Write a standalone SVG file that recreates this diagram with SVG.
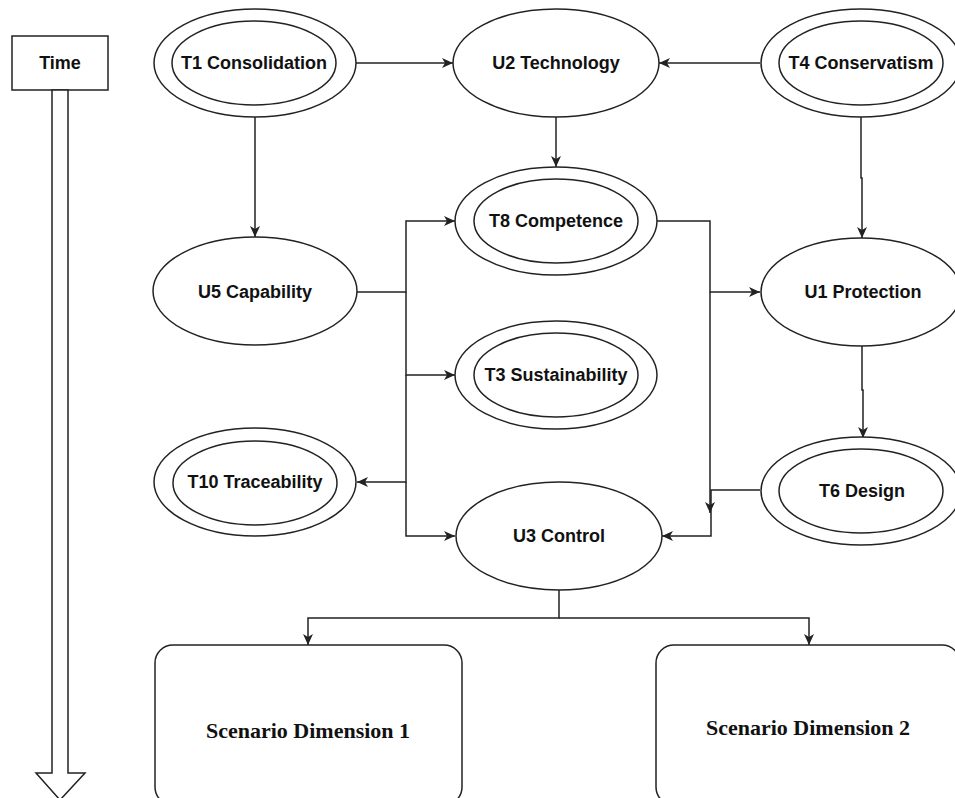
<svg xmlns="http://www.w3.org/2000/svg" width="955" height="798" viewBox="0 0 955 798">
  <style>
    .shape { fill: #ffffff; stroke: #222222; stroke-width: 1.5; }
    .edge { fill: none; stroke: #222222; stroke-width: 1.5; }
    .lbl { font-family: "Liberation Sans", Arial, sans-serif; font-weight: bold; font-size: 18px; fill: #111111; text-anchor: middle; dominant-baseline: central; }
    .serif { font-family: "Liberation Serif", "Times New Roman", serif; font-weight: bold; font-size: 22px; fill: #111111; text-anchor: middle; dominant-baseline: central; }
  </style>
  <defs>
    <marker id="arrow" markerUnits="userSpaceOnUse" markerWidth="12" markerHeight="10" refX="11" refY="5" orient="auto">
      <path d="M0,0 L11,5 L0,10 L3,5 Z" fill="#222222"/>
    </marker>
  </defs>

  <rect width="955" height="798" fill="#ffffff"/>

  <!-- time axis -->
  <g id="time">
    <rect class="shape" x="12" y="36" width="96" height="54"/>
    <text class="lbl" x="60" y="63">Time</text>
    <polygon class="shape" points="52,90 68,90 68,773 85,773 60,800 36,773 52,773"/>
  </g>

  <!-- connectors -->
  <g id="connectors">
    <path class="edge" d="M356,63 H453" marker-end="url(#arrow)"/>
    <path class="edge" d="M760,63 H659" marker-end="url(#arrow)"/>
    <path class="edge" d="M556,117 V167" marker-end="url(#arrow)"/>
    <path class="edge" d="M255,117 V237" marker-end="url(#arrow)"/>
    <path class="edge" d="M861,117 V178 H862 V238" marker-end="url(#arrow)"/>
    <path class="edge" d="M357,292 H406 V221 H455" marker-end="url(#arrow)"/>
    <path class="edge" d="M406,292 V375 H455" marker-end="url(#arrow)"/>
    <path class="edge" d="M406,375 V482 H357" marker-end="url(#arrow)"/>
    <path class="edge" d="M406,482 V536 H455" marker-end="url(#arrow)"/>
    <path class="edge" d="M657,221 H710 V292 H760" marker-end="url(#arrow)"/>
    <path class="edge" d="M710,292 V513" marker-end="url(#arrow)"/>
    <path class="edge" d="M862,345 V390 H863 V438" marker-end="url(#arrow)"/>
    <path class="edge" d="M760,490 H711 V536 H662" marker-end="url(#arrow)"/>
    <path class="edge" d="M559,590 V618 H308 V645" marker-end="url(#arrow)"/>
    <path class="edge" d="M559,618 H809 V645" marker-end="url(#arrow)"/>
  </g>

  <g id="t1">
    <ellipse class="shape" cx="255" cy="63" rx="101" ry="54"/>
    <ellipse class="shape" cx="254" cy="63" rx="82" ry="42"/>
    <text class="lbl" x="254" y="63">T1 Consolidation</text>
  </g>
  <g id="u2">
    <ellipse class="shape" cx="556" cy="63" rx="103" ry="54"/>
    <text class="lbl" x="556" y="63">U2 Technology</text>
  </g>
  <g id="t4">
    <ellipse class="shape" cx="861" cy="63" rx="100" ry="54"/>
    <ellipse class="shape" cx="861" cy="63" rx="82" ry="42"/>
    <text class="lbl" x="861" y="63">T4 Conservatism</text>
  </g>
  <g id="t8">
    <ellipse class="shape" cx="556" cy="221" rx="101" ry="54"/>
    <ellipse class="shape" cx="556" cy="221" rx="82" ry="42"/>
    <text class="lbl" x="556" y="221">T8 Competence</text>
  </g>
  <g id="u5">
    <ellipse class="shape" cx="255" cy="291" rx="102" ry="54"/>
    <text class="lbl" x="255" y="292">U5 Capability</text>
  </g>
  <g id="u1">
    <ellipse class="shape" cx="861" cy="292" rx="100" ry="54"/>
    <text class="lbl" x="863" y="292">U1 Protection</text>
  </g>
  <g id="t3">
    <ellipse class="shape" cx="556" cy="375" rx="101" ry="54"/>
    <ellipse class="shape" cx="556" cy="375" rx="82" ry="42"/>
    <text class="lbl" x="556" y="375">T3 Sustainability</text>
  </g>
  <g id="t10">
    <ellipse class="shape" cx="255" cy="482" rx="101" ry="54"/>
    <ellipse class="shape" cx="255" cy="483" rx="82" ry="42"/>
    <text class="lbl" x="255" y="482">T10 Traceability</text>
  </g>
  <g id="t6">
    <ellipse class="shape" cx="861" cy="491" rx="100" ry="54"/>
    <ellipse class="shape" cx="861" cy="491" rx="82" ry="42"/>
    <text class="lbl" x="862" y="491">T6 Design</text>
  </g>
  <g id="u3">
    <ellipse class="shape" cx="559" cy="536" rx="103" ry="54"/>
    <text class="lbl" x="559" y="536">U3 Control</text>
  </g>

  <g id="scenario1">
    <rect class="shape" x="155" y="645" width="307" height="160" rx="18"/>
    <text class="serif" x="308" y="730">Scenario Dimension 1</text>
  </g>
  <g id="scenario2">
    <rect class="shape" x="656" y="645" width="304" height="160" rx="18"/>
    <text class="serif" x="808" y="727">Scenario Dimension 2</text>
  </g>
</svg>
